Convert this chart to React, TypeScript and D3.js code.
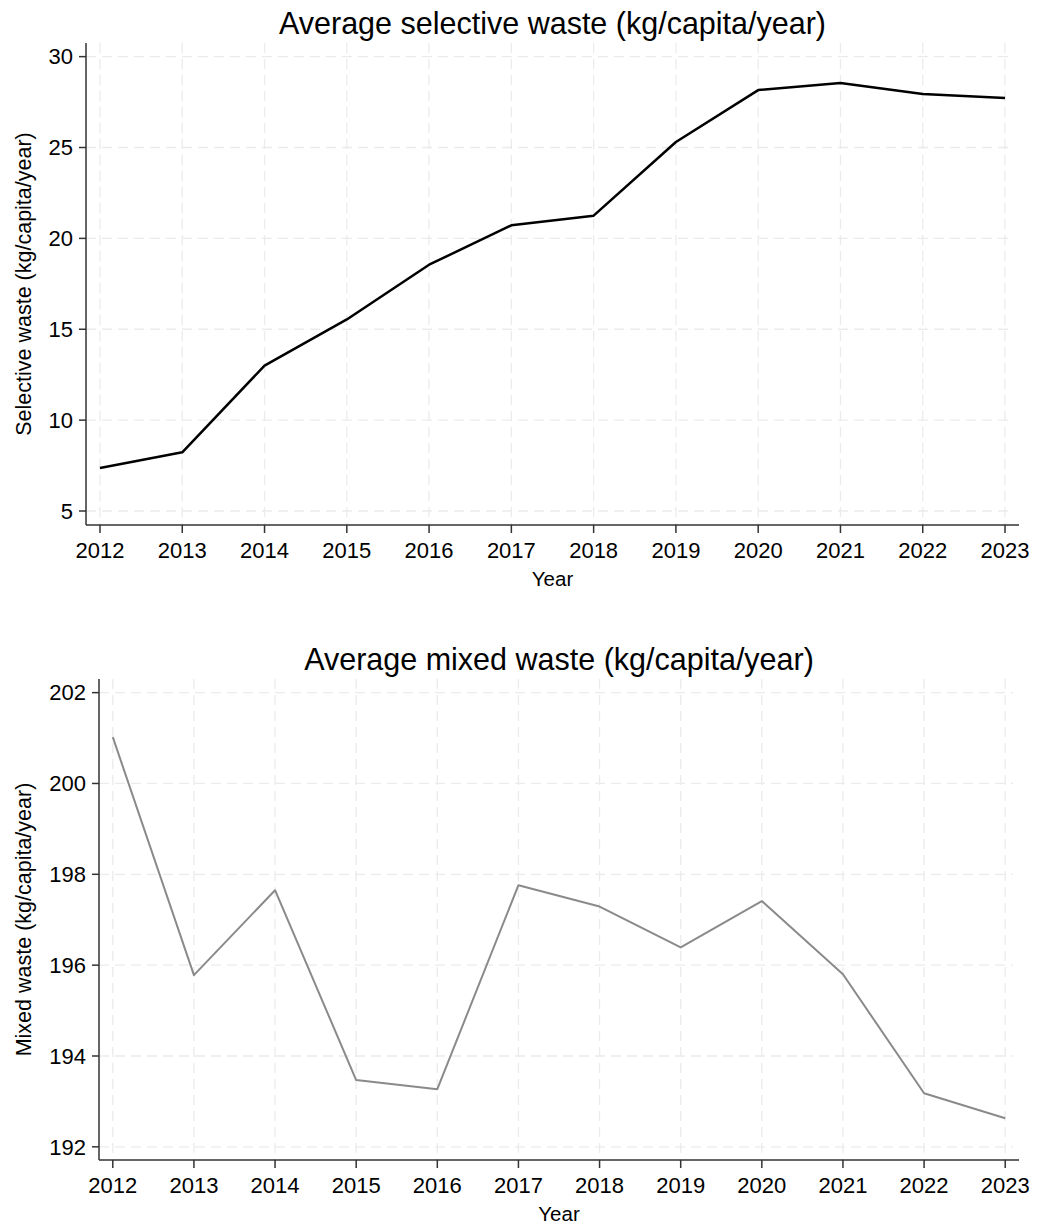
import React from "react";
import * as d3 from "d3";

const years = [2012, 2013, 2014, 2015, 2016, 2017, 2018, 2019, 2020, 2021, 2022, 2023];
const selective = [7.37, 8.23, 13.0, 15.54, 18.55, 20.72, 21.25, 25.3, 28.16, 28.55, 27.94, 27.72];
const mixed = [201.02, 195.78, 197.65, 193.47, 193.27, 197.76, 197.29, 196.39, 197.41, 195.8, 193.18, 192.63];
const selectiveTicks = [5, 10, 15, 20, 25, 30];
const mixedTicks = [192, 194, 196, 198, 200, 202];

const FONT = "'Liberation Sans', Arial, Helvetica, sans-serif";

type PanelProps = {
  title: string;
  yLabel: string;
  values: number[];
  yTicks: number[];
  yDomain: [number, number];
  xDomain: [number, number];
  left: number;
  right: number;
  top: number;
  bottom: number;
  titleY: number;
  lineColor: string;
  lineWidth: number;
};

function Panel(p: PanelProps) {
  const x = d3.scaleLinear().domain(p.xDomain).range([p.left, p.right]);
  const y = d3.scaleLinear().domain(p.yDomain).range([p.bottom, p.top]);
  const line = d3
    .line<number>()
    .x((_, i) => x(years[i]))
    .y((d) => y(d));
  const cx = (p.left + p.right) / 2;
  const gridRight = x(years[years.length - 1]) + 8;
  return (
    <g>
      <text x={cx} y={p.titleY} textAnchor="middle" fontSize={30.5} fontFamily={FONT} fill="#000">
        {p.title}
      </text>
      {years.map((yr) => (
        <line key={"vg" + yr} x1={x(yr)} x2={x(yr)} y1={p.top} y2={p.bottom} stroke="#ebebeb" strokeWidth={1.3} strokeDasharray="10 6" />
      ))}
      {p.yTicks.map((t) => (
        <line key={"hg" + t} x1={p.left} x2={gridRight} y1={y(t)} y2={y(t)} stroke="#ebebeb" strokeWidth={1.3} strokeDasharray="10 6" />
      ))}
      <path d={line(p.values) || ""} fill="none" stroke={p.lineColor} strokeWidth={p.lineWidth} strokeLinejoin="round" />
      <line x1={p.left} x2={p.left} y1={p.top} y2={p.bottom} stroke="#333" strokeWidth={1.5} />
      <line x1={p.left} x2={p.right} y1={p.bottom} y2={p.bottom} stroke="#333" strokeWidth={1.5} />
      {p.yTicks.map((t) => (
        <g key={"yt" + t}>
          <line x1={p.left - 7} x2={p.left} y1={y(t)} y2={y(t)} stroke="#333" strokeWidth={1.5} />
          <text x={p.left - 13} y={y(t)} dy="0.35em" textAnchor="end" fontSize={22} fontFamily={FONT} fill="#000">
            {t}
          </text>
        </g>
      ))}
      {years.map((yr) => (
        <g key={"xt" + yr}>
          <line x1={x(yr)} x2={x(yr)} y1={p.bottom} y2={p.bottom + 8} stroke="#333" strokeWidth={1.5} />
          <text x={x(yr)} y={p.bottom + 33} textAnchor="middle" fontSize={22} fontFamily={FONT} fill="#000">
            {yr}
          </text>
        </g>
      ))}
      <text x={cx} y={p.bottom + 61} textAnchor="middle" fontSize={20.5} fontFamily={FONT} fill="#000">
        Year
      </text>
      <text
        transform={`translate(31, ${(p.top + p.bottom) / 2}) rotate(-90)`}
        textAnchor="middle"
        fontSize={21.5}
        fontFamily={FONT}
        fill="#000"
      >
        {p.yLabel}
      </text>
    </g>
  );
}

export default function App() {
  return (
    <svg
      width={1038}
      height={1225}
      viewBox="0 0 1038 1225"
      style={{ position: "absolute", left: 0, top: 0, background: "#fff", display: "block" }}
    >
      <rect x={0} y={0} width={1038} height={1225} fill="#fff" />
      <Panel
        title="Average selective waste (kg/capita/year)"
        yLabel="Selective waste (kg/capita/year)"
        values={selective}
        yTicks={selectiveTicks}
        yDomain={[4.23, 30.75]}
        xDomain={[2011.83, 2023.17]}
        left={86}
        right={1019}
        top={43}
        bottom={525}
        titleY={34}
        lineColor="#000"
        lineWidth={2.5}
      />
      <Panel
        title="Average mixed waste (kg/capita/year)"
        yLabel="Mixed waste (kg/capita/year)"
        values={mixed}
        yTicks={mixedTicks}
        yDomain={[191.71, 202.3]}
        xDomain={[2011.83, 2023.17]}
        left={99}
        right={1019}
        top={679}
        bottom={1160}
        titleY={670}
        lineColor="#8a8a8a"
        lineWidth={2}
      />
    </svg>
  );
}
